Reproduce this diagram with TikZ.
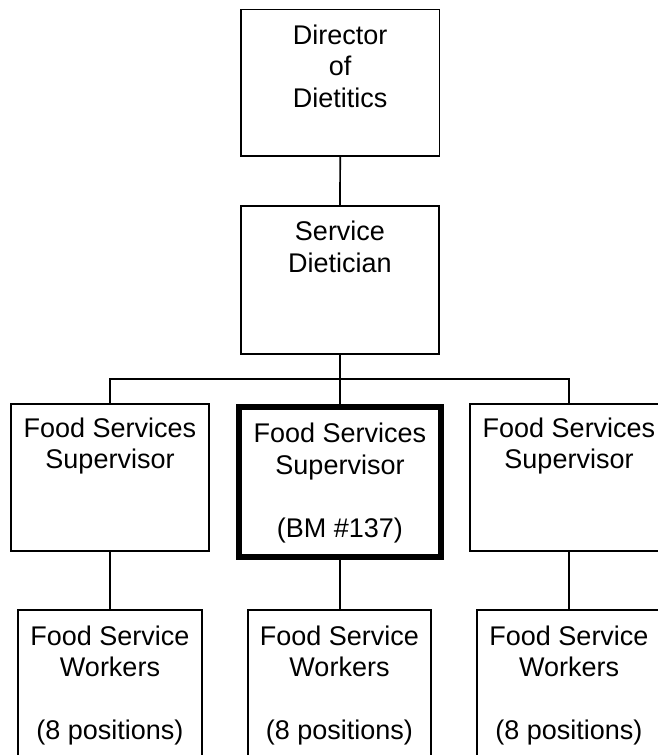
\documentclass[tikz,border=0pt]{standalone}
\usepackage{fontspec}
\setmainfont{Liberation Sans}
\begin{document}
\begin{tikzpicture}[x=1pt,y=-1pt,
  box/.style={draw=black,line width=1.7pt,fill=white,inner sep=0pt,rectangle},
  boldbox/.style={box,line width=6.2pt},
  conn/.style={draw=black,line width=1.7pt},
  lbl/.style={anchor=north,inner sep=0pt,align=center,font=\fontsize{27}{31.5}\selectfont}]
\useasboundingbox (0,0) rectangle (658,755);
\clip (0,0) rectangle (658,755);
\fill[white] (0,0) rectangle (658,755);
% boxes
\node[box,minimum width=198.3pt,minimum height=146.7pt] (dir) at (340.2,82.7) {};
\node[box,minimum width=198pt,minimum height=148pt] (svc) at (340,280) {};
\node[box,minimum width=198pt,minimum height=147pt] (sup1) at (110,477.5) {};
\node[boldbox,minimum width=202pt,minimum height=150pt] (sup2) at (340,482) {};
\node[box,minimum width=198pt,minimum height=147pt] (sup3) at (569,477.5) {};
\node[box,minimum width=184pt,minimum height=160pt] (wk1) at (110,690) {};
\node[box,minimum width=183pt,minimum height=160pt] (wk2) at (339.5,690) {};
\node[box,minimum width=184pt,minimum height=160pt] (wk3) at (569,690) {};
% labels (first baseline = y + 25)
\node[lbl] (dirT) at (340.2,19) {\rule{0pt}{25pt}Director\\of\\Dietitics};
\node[lbl] (svcT) at (340,215.7) {\rule{0pt}{25pt}Service\\Dietician};
\node[lbl] (sup1T) at (110,412) {\rule{0pt}{25pt}Food Services\\Supervisor};
\node[lbl] (sup2T) at (340,417.7) {\rule{0pt}{25pt}Food Services\\Supervisor\\[31.5pt](BM \#137)};
\node[lbl] (sup3T) at (569,412) {\rule{0pt}{25pt}Food Services\\Supervisor};
\node[lbl] (wk1T) at (110,620) {\rule{0pt}{25pt}Food Service\\Workers\\[31.5pt](8 positions)};
\node[lbl] (wk2T) at (339.5,620) {\rule{0pt}{25pt}Food Service\\Workers\\[31.5pt](8 positions)};
\node[lbl] (wk3T) at (569,620) {\rule{0pt}{25pt}Food Service\\Workers\\[31.5pt](8 positions)};
% connectors
\coordinate (bus) at (340,379);
\draw[conn] (dir.south) -- (svc.north);
\draw[conn] (svc.south) -- (bus);
\draw[conn] (sup1.north) |- (bus) -| (sup3.north);
\draw[conn] (bus) -- (sup2.north);
\draw[conn] (sup1.south) -- (wk1.north);
\draw[conn] (sup2.south) -- (sup2.south |- wk2.north);
\draw[conn] (sup3.south) -- (wk3.north);
\end{tikzpicture}
\end{document}
